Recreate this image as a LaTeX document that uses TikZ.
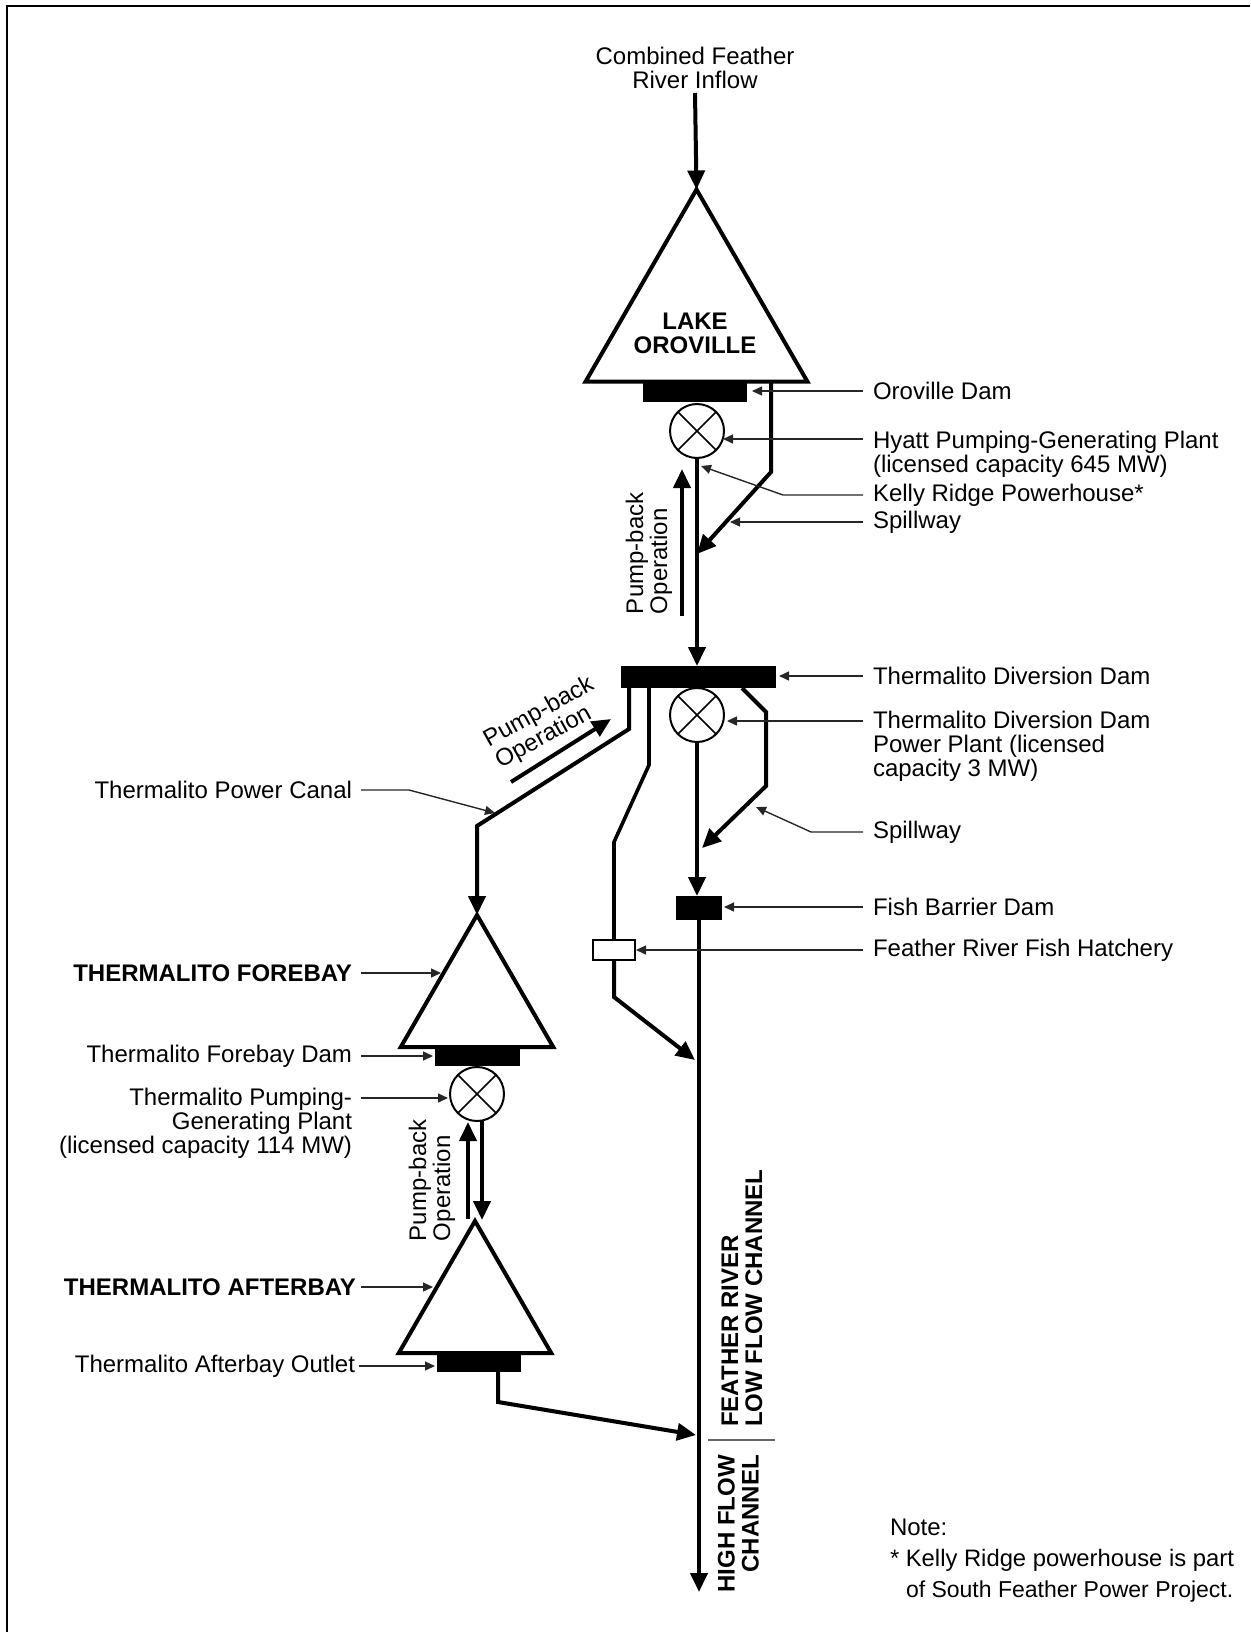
\documentclass[tikz,border=0pt]{standalone}
\usepackage{fontspec}
\setmainfont{Liberation Sans}
\usetikzlibrary{arrows.meta,positioning,calc,shapes.geometric}
\tikzset{
  lakeshape/.style={draw,fill=white,regular polygon,regular polygon sides=3,line width=4pt,inner sep=0pt,outer sep=0pt},
  damblock/.style={fill=black,inner sep=0pt,outer sep=0pt},
  plantx/.style={draw,fill=white,circle,line width=2pt,minimum size=54pt,inner sep=0pt,outer sep=0pt,
    path picture={\draw[line width=1.6pt] (path picture bounding box.north west) -- (path picture bounding box.south east)
      (path picture bounding box.north east) -- (path picture bounding box.south west);}},
  hatchbox/.style={draw,fill=white,line width=2.6pt,minimum width=42pt,minimum height=20pt,inner sep=0pt,outer sep=0pt},
  lbl/.style={font=\fontsize{24}{24}\selectfont,inner sep=0pt,outer sep=0pt,align=left,anchor=west},
  lblr/.style={font=\fontsize{24}{24}\selectfont,inner sep=0pt,outer sep=0pt,align=right,anchor=east},
  flow/.style={-{Triangle[length=19pt,width=17pt]},line width=4pt,line join=miter},
  pipe/.style={line width=3.6pt,line join=miter},
  leader/.style={-{Triangle[length=10pt,width=9pt]},line width=1.4pt,draw=black!85}
}
\begin{document}
\begin{tikzpicture}[x=1pt,y=-1pt]
  \useasboundingbox (0,0) rectangle (1250,1632);
  \coordinate (framebl) at (7,1632);
  \coordinate (frametl) at (7,6);
  \coordinate (frametr) at (1250,6);
  \draw[line width=1.7pt] (framebl) -- (frametl) -- (frametr);
  % upper lake
  \node[font=\fontsize{24}{24}\selectfont,align=center,inner sep=0pt] (inflow) at (695,68) {Combined Feather\\River Inflow};
  \node[lakeshape,minimum size=256pt] (oroville) at (696.5,317.5) {};
  \node[font=\fontsize{24}{24}\selectfont\bfseries,align=center,inner sep=0pt] (orovilletxt) at (695,333) {LAKE\\OROVILLE};
  \node[damblock,minimum width=104pt,minimum height=21pt] (orodam) at (695,391.5) {};
  \node[plantx] (hyattplant) at (697,431) {};
  \coordinate (spillbend) at (771,472);
  \coordinate (spilltop) at (771,381);
  \coordinate (spilltip) at (697,554);
  \node[damblock,minimum width=155pt,minimum height=22pt] (divdam) at (698.5,677) {};
  \draw[flow] (inflow.south) ++(0,4) -- (oroville.corner 1);
  \draw[flow] (hyattplant) -- (hyattplant |- divdam.north);
  \draw[flow] (spilltop) -- (spillbend) -- (spilltip);
  \coordinate (pumpAlow) at (682,616);
  \coordinate (pumpAtop) at (682,469);
  \draw[flow] (pumpAlow) -- (pumpAtop);
  \node[lbl,rotate=90,anchor=south west] (pumpA) at (672,614) {Pump-back\\Operation};
  % diversion dam
  \node[plantx] (divplant) at (697,715) {};
  \node[damblock,minimum width=46pt,minimum height=24pt] (fishdam) at (699,908) {};
  \node[hatchbox] (hatch) at (614,950) {};
  \coordinate (spillBtop) at (742,688);
  \coordinate (spillBa) at (766,712);
  \coordinate (spillBb) at (766,786);
  \coordinate (spillBtip) at (702,848);
  \draw[flow] (divplant.south) -- (divplant.south |- fishdam.north);
  \draw[flow] (spillBtop) -- (spillBa) -- (spillBb) -- (spillBtip);
  \coordinate (hatchA) at (649,688);
  \coordinate (hatchB) at (649,765);
  \coordinate (hatchC) at (614,842);
  \draw[pipe] (hatchA) -- (hatchB) -- (hatchC) -- (hatch.north);
  \coordinate (hatchD) at (614,997);
  \coordinate (hatchtip) at (695,1060);
  \draw[flow] (hatch.south) -- (hatchD) -- (hatchtip);
  % canal
  \coordinate (canalA) at (629,688);
  \coordinate (canalB) at (629,729);
  \coordinate (canalC) at (477,826);
  \node[lakeshape,minimum size=176pt] (forebay) at (477,1003) {};
  \draw[flow] (canalA) -- (canalB) -- (canalC) -- (forebay.corner 1);
  \coordinate (pumpBlow) at (511,782);
  \coordinate (pumpBtop) at (611,719);
  \draw[flow] (pumpBlow) -- (pumpBtop);
  \node[lbl,rotate=29,anchor=south west] (pumpB) at (503,773) {Pump-back\\Operation};
  \node[damblock,minimum width=85pt,minimum height=19pt] (foredam) at (477.5,1056.5) {};
  \node[plantx] (foreplant) at (477,1094) {};
  \node[lakeshape,minimum size=176pt] (afterbay) at (475,1309) {};
  \node[damblock,minimum width=84pt,minimum height=20pt] (afterdam) at (479,1362) {};
  \coordinate (pumpClow) at (468,1219);
  \coordinate (pumpCtop) at (468,1122);
  \coordinate (downtop) at (482,1121);
  \coordinate (downtip) at (482,1220);
  \draw[flow] (pumpClow) -- (pumpCtop);
  \draw[flow] (downtop) -- (downtip);
  \node[lbl,rotate=90,anchor=south west] (pumpC) at (455,1241) {Pump-back\\Operation};
  % river
  \coordinate (rivertip) at (699,1592);
  \draw[flow] (fishdam.south) -- (rivertip);
  \coordinate (outA) at (498,1402);
  \coordinate (outtip) at (696,1435);
  \draw[flow] (outA |- afterdam.south) -- (outA) -- (outtip);
  \node[font=\fontsize{24}{24}\selectfont\bfseries,rotate=90,align=left,anchor=south west,inner sep=0pt] (lowflow) at (762.5,1427) {FEATHER RIVER\\LOW FLOW CHANNEL};
  \node[font=\fontsize{24}{24}\selectfont\bfseries,rotate=90,align=right,anchor=south east,inner sep=0pt] (highflow) at (759,1455) {HIGH FLOW\\CHANNEL};
  \coordinate (sepA) at (708,1440);
  \coordinate (sepB) at (775,1440);
  \draw[line width=1.3pt,draw=black!60] (sepA) -- (sepB);
  % labels on the right
  \node[lbl] (lbloro) at (873,391) {Oroville Dam};
  \node[lbl,anchor=north west] (lblhyatt) at (873,431) {Hyatt Pumping-Generating Plant\\(licensed capacity 645 MW)};
  \node[lbl] (lblkelly) at (873,495) {Kelly Ridge Powerhouse*};
  \node[lbl] (lblspill) at (873,522) {Spillway};
  \node[lbl] (lbldiv) at (873,676) {Thermalito Diversion Dam};
  \node[lbl,anchor=north west] (lbldivp) at (873,711) {Thermalito Diversion Dam\\Power Plant (licensed\\capacity 3 MW)};
  \node[lbl] (lblspillb) at (873,832) {Spillway};
  \node[lbl] (lblfish) at (873,907) {Fish Barrier Dam};
  \node[lbl] (lblhatch) at (873,950) {Feather River Fish Hatchery};
  \coordinate (kellybend) at (783,496);
  \coordinate (kellytip) at (701,466);
  \coordinate (spilltarget) at (730,522);
  \coordinate (spillbbend) at (811,832);
  \coordinate (spillbtip) at (756,807);
  \coordinate (hyattlead) at (723,439);
  \coordinate (divlead) at (727,721);
  \draw[leader,shorten <=10pt,shorten >=5pt] (lbloro.west) -- (lbloro.west -| orodam.east);
  \draw[leader,shorten <=10pt] (lblhyatt.west |- hyattlead) -- (hyattlead);
  \draw[leader,shorten <=10pt] (lblkelly.west) -- (kellybend |- lblkelly.west) -- (kellytip);
  \draw[leader,shorten <=10pt] (lblspill.west) -- (spilltarget);
  \draw[leader,shorten <=10pt,shorten >=3pt] (lbldiv.west) -- (lbldiv.west -| divdam.east);
  \draw[leader,shorten <=10pt] (lbldivp.west |- divlead) -- (divlead);
  \draw[leader,shorten <=10pt] (lblspillb.west) -- (spillbbend) -- (spillbtip);
  \draw[leader,shorten <=10pt,shorten >=2pt] (lblfish.west) -- (lblfish.west -| fishdam.east);
  \draw[leader,shorten <=10pt,shorten >=1pt] (lblhatch.west) -- (lblhatch.west -| hatch.east);
  % labels on the left
  \node[lblr] (lblcanal) at (352,790) {Thermalito Power Canal};
  \node[lblr,font=\fontsize{24}{24}\selectfont\bfseries] (lblfore) at (352,973) {THERMALITO FOREBAY};
  \node[lblr] (lblfdam) at (352,1056) {Thermalito Forebay Dam};
  \node[lblr,anchor=north east] (lblfplant) at (352,1088) {Thermalito Pumping-\\Generating Plant\\(licensed capacity 114 MW)};
  \node[lblr,font=\fontsize{24}{24}\selectfont\bfseries] (lblafter) at (356,1287) {THERMALITO AFTERBAY};
  \node[lblr] (lbloutlet) at (355,1366) {Thermalito Afterbay Outlet};
  \coordinate (canalbend) at (409,790);
  \coordinate (canaltip) at (495,813);
  \coordinate (forelead) at (441,973);
  \coordinate (plantlead) at (448,1098);
  \coordinate (afterlead) at (433,1287);
  \draw[leader,shorten <=9pt] (lblcanal.east) -- (canalbend) -- (canaltip);
  \draw[leader,shorten <=9pt] (lblfore.east) -- (forelead);
  \draw[leader,shorten <=9pt,shorten >=2pt] (lblfdam.east) -- (lblfdam.east -| foredam.west);
  \draw[leader,shorten <=9pt] (lblfplant.east |- plantlead) -- (plantlead);
  \draw[leader,shorten <=5pt] (lblafter.east) -- (afterlead);
  \draw[leader,shorten <=4pt,shorten >=2pt] (lbloutlet.east) -- (lbloutlet.east -| afterdam.west);
  % note
  \node[lbl,anchor=north west] (notetxt) at (890,1519) {Note:};
  \node[lbl,anchor=north west,font=\fontsize{23.8}{31}\selectfont] (notebody) at (890,1549) {* Kelly Ridge powerhouse is part\\\hspace*{16pt}\fontsize{23}{31}\selectfont of South Feather Power Project.};
\end{tikzpicture}
\end{document}
